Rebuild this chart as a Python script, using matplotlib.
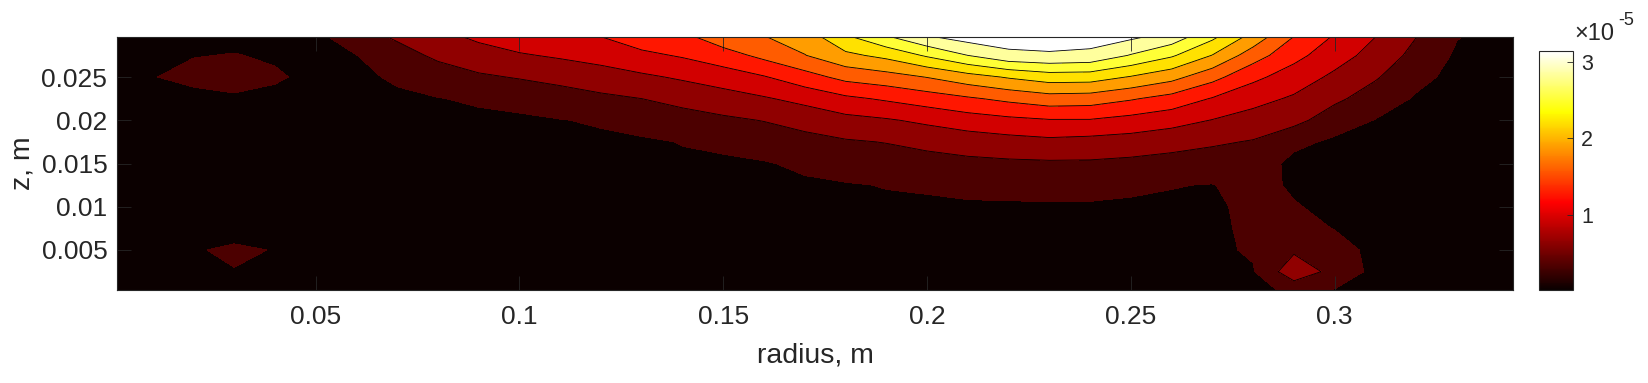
import numpy as np
import matplotlib
matplotlib.use('Agg')
import matplotlib.pyplot as plt
from matplotlib import cm
from matplotlib.colors import Normalize

plt.rcParams['font.family'] = ['Liberation Sans', 'DejaVu Sans']

# ── Data (values in units of 1e-5) ───────────────────────────────────────────
# grid: one list per radius column, z from top (0.03) to bottom (0)
radius = np.round(np.arange(0.0, 0.351, 0.01), 2)
z_top_down = [0.03, 0.0275, 0.025, 0.0225, 0.02, 0.0175, 0.015,
              0.0125, 0.01, 0.0075, 0.005, 0.0025, 0.0]

cols = [
    [0.20, 0.22, 0.22, 0.20, 0.18, 0.16, 0.15, 0.15, 0.15, 0.16, 0.17, 0.17, 0.16],  # 0.00
    [0.20, 0.25, 0.29, 0.23, 0.19, 0.17, 0.16, 0.15, 0.15, 0.17, 0.19, 0.19, 0.17],  # 0.01
    [0.22, 0.29, 0.37, 0.22, 0.19, 0.17, 0.16, 0.16, 0.17, 0.20, 0.28, 0.21, 0.19],  # 0.02
    [0.22, 0.31, 0.44, 0.25, 0.20, 0.17, 0.16, 0.16, 0.17, 0.20, 0.34, 0.29, 0.22],  # 0.03
    [0.25, 0.27, 0.33, 0.24, 0.20, 0.18, 0.17, 0.17, 0.18, 0.20, 0.29, 0.24, 0.20],  # 0.04
    [0.25, 0.26, 0.24, 0.22, 0.20, 0.18, 0.17, 0.16, 0.16, 0.17, 0.19, 0.19, 0.17],  # 0.05
    [0.51, 0.295, 0.25, 0.22, 0.20, 0.18, 0.17, 0.16, 0.15, 0.15, 0.15, 0.15, 0.14],  # 0.06
    [0.66, 0.495, 0.333, 0.26, 0.22, 0.19, 0.17, 0.16, 0.15, 0.15, 0.14, 0.14, 0.13],  # 0.07
    [0.84, 0.65, 0.47, 0.29, 0.24, 0.20, 0.18, 0.16, 0.15, 0.14, 0.14, 0.13, 0.13],  # 0.08
    [0.99, 0.77, 0.56, 0.34, 0.24, 0.21, 0.19, 0.17, 0.16, 0.15, 0.14, 0.13, 0.13],  # 0.09
    [1.11, 0.87, 0.62, 0.40, 0.25, 0.22, 0.20, 0.18, 0.16, 0.15, 0.14, 0.13, 0.13],  # 0.10
    [1.18, 0.94, 0.68, 0.48, 0.29, 0.24, 0.21, 0.19, 0.17, 0.16, 0.15, 0.14, 0.13],  # 0.11
    [1.23, 1.01, 0.77, 0.54, 0.33, 0.25, 0.22, 0.20, 0.18, 0.16, 0.15, 0.14, 0.14],  # 0.12
    [1.41, 1.13, 0.85, 0.60, 0.42, 0.26, 0.23, 0.21, 0.19, 0.17, 0.16, 0.15, 0.14],  # 0.13
    [1.47, 1.23, 0.94, 0.69, 0.48, 0.31, 0.26, 0.23, 0.20, 0.18, 0.17, 0.16, 0.15],  # 0.14
    [1.73, 1.37, 1.05, 0.77, 0.55, 0.38, 0.24, 0.22, 0.20, 0.19, 0.17, 0.16, 0.15],  # 0.15
    [1.82, 1.58, 1.18, 0.87, 0.61, 0.44, 0.28, 0.24, 0.22, 0.20, 0.18, 0.17, 0.16],  # 0.16
    [1.98, 1.79, 1.38, 0.99, 0.70, 0.51, 0.35, 0.26, 0.24, 0.22, 0.20, 0.18, 0.17],  # 0.17
    [2.42, 2.03, 1.59, 1.14, 0.81, 0.57, 0.43, 0.28, 0.25, 0.23, 0.21, 0.19, 0.18],  # 0.18
    [2.75, 2.18, 1.68, 1.24, 0.87, 0.61, 0.46, 0.31, 0.26, 0.23, 0.21, 0.20, 0.19],  # 0.19
    [3.05, 2.44, 1.81, 1.35, 0.96, 0.68, 0.49, 0.33, 0.26, 0.24, 0.22, 0.21, 0.20],  # 0.20
    [3.20, 2.70, 1.98, 1.46, 1.06, 0.74, 0.53, 0.36, 0.27, 0.25, 0.23, 0.22, 0.21],  # 0.21
    [3.20, 2.92, 2.13, 1.57, 1.13, 0.79, 0.55, 0.38, 0.27, 0.26, 0.24, 0.23, 0.22],  # 0.22
    [3.18, 2.96, 2.25, 1.67, 1.18, 0.83, 0.56, 0.39, 0.27, 0.25, 0.24, 0.23, 0.22],  # 0.23
    [3.18, 2.92, 2.24, 1.65, 1.18, 0.80, 0.56, 0.39, 0.27, 0.25, 0.24, 0.23, 0.22],  # 0.24
    [3.12, 2.68, 2.08, 1.53, 1.10, 0.77, 0.53, 0.35, 0.26, 0.25, 0.24, 0.23, 0.22],  # 0.25
    [2.95, 2.44, 1.90, 1.39, 1.01, 0.71, 0.49, 0.31, 0.26, 0.24, 0.23, 0.22, 0.21],  # 0.26
    [2.53, 2.09, 1.60, 1.18, 0.89, 0.64, 0.46, 0.29, 0.26, 0.25, 0.25, 0.24, 0.22],  # 0.27
    [2.05, 1.64, 1.27, 1.00, 0.78, 0.58, 0.47, 0.40, 0.36, 0.35, 0.33, 0.28, 0.24],  # 0.28
    [1.53, 1.29, 1.06, 0.86, 0.69, 0.37, 0.22, 0.26, 0.32, 0.40, 0.55, 0.80, 0.33],  # 0.29
    [1.20, 1.03, 0.84, 0.66, 0.44, 0.25, 0.20, 0.20, 0.23, 0.29, 0.42, 0.50, 0.25],  # 0.30
    [0.92, 0.79, 0.63, 0.46, 0.29, 0.22, 0.18, 0.17, 0.17, 0.19, 0.22, 0.22, 0.20],  # 0.31
    [0.62, 0.51, 0.38, 0.27, 0.22, 0.19, 0.17, 0.16, 0.16, 0.16, 0.17, 0.17, 0.17],  # 0.32
    [0.32, 0.26, 0.22, 0.20, 0.18, 0.17, 0.16, 0.15, 0.15, 0.15, 0.15, 0.15, 0.15],  # 0.33
    [0.22, 0.20, 0.18, 0.17, 0.16, 0.15, 0.14, 0.14, 0.14, 0.14, 0.14, 0.14, 0.14],  # 0.34
    [0.18, 0.17, 0.16, 0.15, 0.14, 0.13, 0.13, 0.13, 0.13, 0.13, 0.13, 0.13, 0.13],  # 0.35
]

levels = [0.3, 0.6, 0.9, 1.2, 1.5, 1.8, 2.1, 2.4, 2.7, 3.0]
cbar_range = (0.02, 3.14)
xticks = [0.05, 0.1, 0.15, 0.2, 0.25, 0.3]
yticks = [0.005, 0.01, 0.015, 0.02, 0.025]

# ── Grid ─────────────────────────────────────────────────────────────────────
z = np.array(z_top_down)[::-1]
Z = np.array(cols).T[::-1] * 1e-5

# ── Figure ───────────────────────────────────────────────────────────────────
W, H = 1649, 383
fig = plt.figure(figsize=(W / 100, H / 100), dpi=100)
ax = fig.add_axes([117 / W, 1 - 290 / H, (1513 - 117) / W, (290 - 37) / H])

hot = plt.get_cmap('hot')
band_edges = [0.0] + levels + [10.0]
band_colors = [hot(k / 10) for k in range(11)]
ax.contourf(radius, z, Z, levels=np.array(band_edges) * 1e-5, colors=band_colors)
ax.contour(radius, z, Z, levels=np.array(levels[1:]) * 1e-5,
           colors='k', linewidths=0.6)

ax.set_xlim(0.00125, 0.34375)
ax.set_ylim(0.000375, 0.029625)
ax.set_xticks(xticks)
ax.set_xticklabels([f'{v:g}' for v in xticks])
ax.set_yticks(yticks)
ax.set_yticklabels([f'{v:g}' for v in yticks])

edge = '#262626'
ax.tick_params(direction='in', top=True, right=True, length=10, width=0.6,
               colors=edge, labelsize=19, labelcolor=edge)
ax.tick_params(axis='x', pad=11)
ax.tick_params(axis='y', pad=7)
for sp in ax.spines.values():
    sp.set_color(edge)
    sp.set_linewidth(0.8)

ax.set_xlabel('radius, m', fontsize=20.5, color=edge, labelpad=9.5)
ax.set_ylabel('z, m', fontsize=20.5, color=edge, labelpad=4)

# ── Colorbar ─────────────────────────────────────────────────────────────────
cax = fig.add_axes([1539 / W, 1 - 290 / H, 34 / W, (290 - 51) / H])
sm = cm.ScalarMappable(norm=Normalize(*cbar_range), cmap=hot)
cb = fig.colorbar(sm, cax=cax)
cb.set_ticks([1, 2, 3])
cb.set_ticklabels(['1', '2', '3'])
cb.ax.tick_params(direction='in', length=4, width=0.6, colors=edge,
                  labelsize=15.5, labelcolor=edge, pad=6)
cb.outline.set_edgecolor(edge)
cb.outline.set_linewidth(0.8)

fig.text(1574 / W, 1 - 40 / H, '\u00d710', fontsize=17, color=edge,
         ha='left', va='baseline')
fig.text(1618 / W, 1 - 25 / H, '-5', fontsize=13, color=edge,
         ha='left', va='baseline')

fig.savefig('out.png', dpi=100, facecolor='white')
